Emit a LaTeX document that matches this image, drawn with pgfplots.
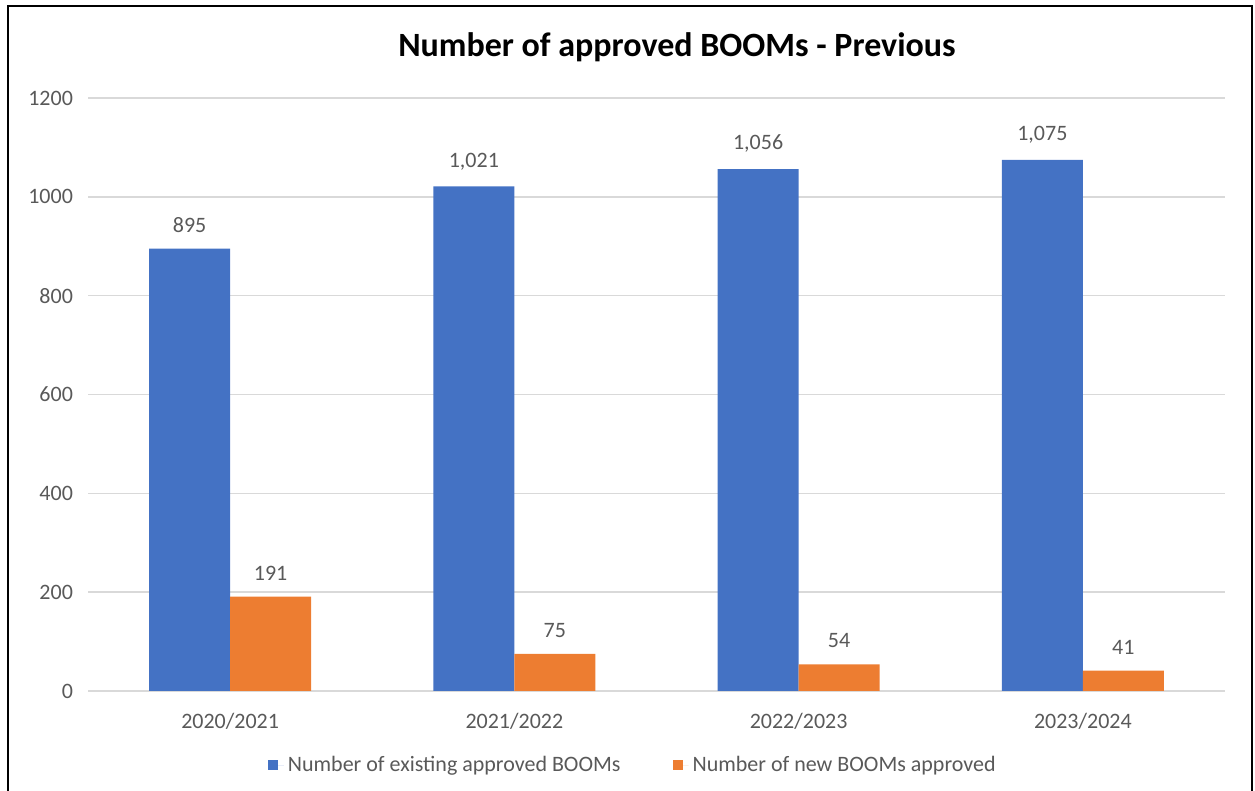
\documentclass[border=0pt]{standalone}
\usepackage{pgfplots}
\pgfplotsset{compat=1.18}
\usepackage{fontspec}
\setmainfont{Carlito}
\definecolor{cblue}{HTML}{4472C4}
\definecolor{corange}{HTML}{ED7D31}
\definecolor{gridc}{HTML}{D9D9D9}
\definecolor{txt}{HTML}{595959}
\begin{document}
\begin{tikzpicture}
\path[use as bounding box] (0,0) rectangle (627.5pt,395.5pt);
\begin{axis}[
  at={(44pt,50pt)}, anchor=south west,
  scale only axis, width=568.5pt, height=296.5pt,
  ybar=0pt, bar width=40.5pt,
  xmin=-0.5, xmax=3.5, ymin=0, ymax=1200,
  xtick={0,1,2,3}, xticklabels={2020/2021,2021/2022,2022/2023,2023/2024},
  ytick={0,200,...,1200},
  axis line style={draw=none}, tick style={draw=none},
  ymajorgrids, grid style={gridc, line width=0.75pt},
  ticklabel style={font=\fontsize{11}{13}\selectfont, text=txt},
  yticklabel style={/pgf/number format/assume math mode=true, /pgf/number format/1000 sep={}, xshift=-4pt},
  xticklabel style={yshift=-3.5pt},
  nodes near coords={\pgfmathprintnumber[assume math mode=true,1000 sep={,}]{\pgfplotspointmeta}},
  every node near coord/.append style={font=\fontsize{11}{13}\selectfont, text=txt, anchor=south, inner sep=0pt, yshift=8pt},
  legend columns=2,
  legend style={at={(0.48,-0.125)}, anchor=center, draw=none, fill=none,
    font=\fontsize{11}{13}\selectfont, text=txt,
    /tikz/every even column/.append style={column sep=24pt}},
  legend image code/.code={\fill[#1] (-4pt,-2.5pt) rectangle (1pt,2.5pt); \path (1pt,0pt) -- (4pt,0pt);},
]
\addplot[fill=cblue, draw=none] coordinates {(0,895) (1,1021) (2,1056) (3,1075)};
\addlegendentry{Number of existing approved BOOMs}
\addplot[fill=corange, draw=none] coordinates {(0,191) (1,75) (2,54) (3,41)};
\addlegendentry{Number of new BOOMs approved}
\end{axis}
\node[font=\fontsize{17}{20}\selectfont\bfseries] at (338.5pt,372pt) {Number of approved BOOMs - Previous};
\draw[black, line width=1.3pt] (4pt,-2pt) -- (4pt,392.5pt) -- (626pt,392.5pt) -- (626pt,-2pt);
\end{tikzpicture}
\end{document}
